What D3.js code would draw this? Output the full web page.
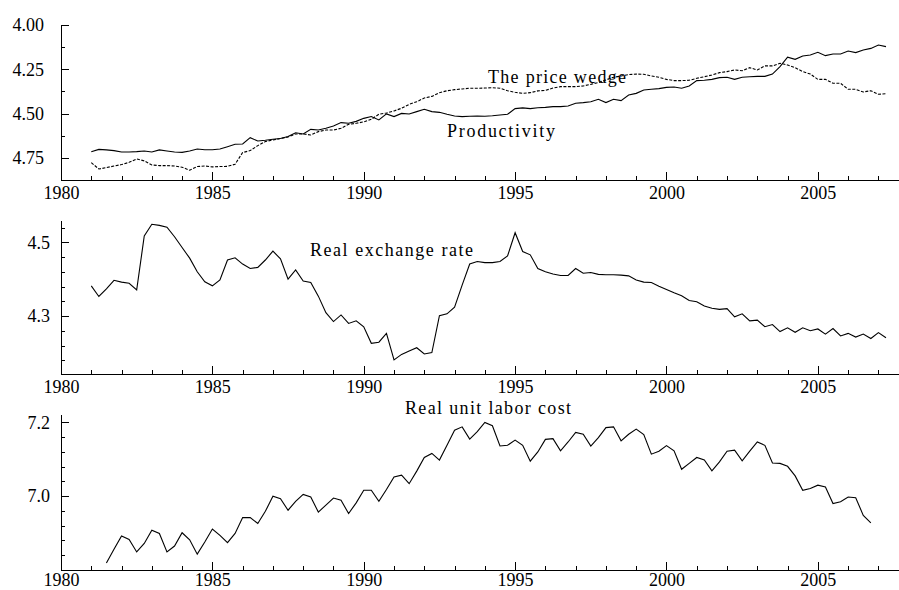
<!DOCTYPE html>
<html><head><meta charset="utf-8">
<script src="https://cdn.jsdelivr.net/npm/d3@7"></script>
<style>
html,body{margin:0;padding:0;background:#fff;}
svg{display:block;font-family:"Liberation Serif","Times New Roman",serif;}
</style></head><body>
<svg id="chart" width="899" height="590"></svg>
<script>
// ---------- data (quarterly) ----------
const xMajorYears = [1980, 1985, 1990, 1995, 2000, 2005];
const xMinorYears = [1981,1982,1983,1984,1986,1987,1988,1989,1991,1992,1993,1994,1996,1997,1998,1999,2001,2002,2003,2004,2006,2007];

const productivityStart = 1981.0;
const productivity = [
  4.715,4.702,4.705,4.709, 4.717,4.717,4.715,4.711, 4.717,4.705,4.711,4.717,
  4.719,4.711,4.700,4.704, 4.704,4.700,4.687,4.673, 4.672,4.636,4.655,4.651,
  4.645,4.641,4.630,4.608, 4.615,4.589,4.593,4.583, 4.570,4.551,4.555,4.544,
  4.527,4.517,4.536,4.502, 4.517,4.499,4.502,4.489, 4.476,4.489,4.493,4.504,
  4.514,4.517,4.515,4.514, 4.515,4.512,4.508,4.504, 4.472,4.468,4.472,4.467,
  4.465,4.461,4.461,4.457, 4.442,4.438,4.433,4.419, 4.438,4.419,4.427,4.395,
  4.386,4.367,4.363,4.359, 4.352,4.350,4.357,4.344, 4.314,4.312,4.307,4.297,
  4.295,4.307,4.295,4.292, 4.290,4.290,4.277,4.235, 4.182,4.194,4.175,4.169,
  4.154,4.173,4.164,4.164, 4.147,4.156,4.141,4.132, 4.113,4.122
];

const priceWedgeStart = 1981.0;
const priceWedge = [
  4.777,4.813,4.805,4.796, 4.788,4.775,4.756,4.767, 4.790,4.794,4.794,4.796,
  4.803,4.820,4.799,4.796, 4.801,4.799,4.798,4.786, 4.720,4.709,4.681,4.658,
  4.649,4.641,4.632,4.615, 4.615,4.621,4.602,4.593, 4.593,4.583,4.561,4.555,
  4.547,4.532,4.504,4.497, 4.485,4.470,4.448,4.433, 4.412,4.403,4.382,4.371,
  4.365,4.361,4.357,4.357, 4.356,4.354,4.357,4.371, 4.380,4.386,4.382,4.372,
  4.369,4.356,4.348,4.348, 4.348,4.344,4.335,4.325, 4.310,4.295,4.288,4.280,
  4.277,4.278,4.288,4.295, 4.307,4.314,4.314,4.312, 4.301,4.292,4.282,4.269,
  4.263,4.254,4.258,4.241, 4.254,4.231,4.231,4.216, 4.226,4.241,4.263,4.277,
  4.307,4.307,4.329,4.329, 4.363,4.363,4.378,4.371, 4.391,4.388
];

const realExchangeRateStart = 1981.0;
const realExchangeRate = [
  4.382,4.353,4.374,4.397, 4.392,4.389,4.371,4.517, 4.549,4.546,4.541,4.515,
  4.486,4.457,4.420,4.393, 4.382,4.398,4.452,4.458, 4.441,4.429,4.432,4.452,
  4.476,4.455,4.400,4.425, 4.395,4.391,4.354,4.309, 4.285,4.303,4.280,4.287,
  4.271,4.226,4.229,4.253, 4.181,4.196,4.205,4.214, 4.197,4.201,4.301,4.306,
  4.324,4.384,4.441,4.448, 4.445,4.445,4.448,4.463, 4.526,4.475,4.466,4.429,
  4.420,4.414,4.410,4.410, 4.429,4.416,4.418,4.413, 4.412,4.412,4.411,4.409,
  4.398,4.392,4.391,4.381, 4.372,4.363,4.355,4.342, 4.339,4.327,4.321,4.318,
  4.320,4.298,4.306,4.287, 4.289,4.271,4.277,4.258, 4.268,4.256,4.268,4.260,
  4.265,4.251,4.266,4.246, 4.253,4.243,4.251,4.239, 4.255,4.241
];

const realUnitLaborCostStart = 1981.5;
const realUnitLaborCost = [
  6.819,6.856, 6.892,6.883,6.849,6.872, 6.908,6.899,6.849,6.865,
  6.901,6.882,6.843,6.876, 6.911,6.894,6.874,6.899, 6.942,6.942,6.926,6.959,
  7.000,6.993,6.962,6.986, 7.005,6.998,6.957,6.976, 6.995,6.989,6.953,6.982,
  7.016,7.016,6.986,7.018, 7.052,7.057,7.034,7.068, 7.105,7.116,7.098,7.138,
  7.179,7.188,7.155,7.175, 7.200,7.191,7.136,7.138, 7.152,7.138,7.095,7.120,
  7.154,7.156,7.123,7.147, 7.173,7.168,7.136,7.159, 7.186,7.188,7.150,7.168,
  7.182,7.167,7.114,7.122, 7.137,7.123,7.073,7.089, 7.105,7.098,7.069,7.093,
  7.122,7.125,7.096,7.122, 7.147,7.138,7.090,7.089, 7.081,7.055,7.016,7.021,
  7.030,7.025,6.980,6.985, 6.998,6.996,6.948,6.928
];

const panel1Major = [4.00, 4.25, 4.50, 4.75];
const panel1Minor = [4.125, 4.375, 4.625];
const panel2Major = [4.3, 4.5];
const panel2Minor = [4.18, 4.22, 4.26, 4.34, 4.38, 4.42, 4.46, 4.54];
const panel3Major = [7.0, 7.2];
const panel3Minor = [6.84, 6.88, 6.92, 6.96, 7.04, 7.08, 7.12, 7.16];

// ---------- drawing ----------
const svg = d3.select("#chart");
const X0 = 61, X1 = 899;
const x = d3.scaleLinear().domain([1980, 2007.68]).range([X0, X1]);

function toPoints(start, arr) { return arr.map((v, i) => ({t: start + i / 4, v})); }

function styleAxis(g, fs) {
  g.attr("font-family", '"Liberation Serif","Times New Roman",serif')
   .attr("font-size", fs);
  g.selectAll("path,line").attr("stroke", "#000").attr("stroke-width", 1).attr("shape-rendering", "crispEdges");
  g.selectAll("text").attr("fill", "#000");
}

function panel(cfg) {
  const y = d3.scaleLinear().domain(cfg.domain).range([cfg.bottom, cfg.top]);
  // x axis
  const gx = svg.append("g").attr("transform", `translate(0,${cfg.bottom})`);
  gx.call(d3.axisBottom(x).tickValues(xMajorYears).tickFormat(d3.format("d"))
      .tickSize(-8).tickSizeOuter(0).tickPadding(cfg.xpad));
  styleAxis(gx, 18);
  gx.selectAll(".tick text").attr("dy", "0.71em");
  const gxm = svg.append("g").attr("transform", `translate(0,${cfg.bottom})`);
  gxm.call(d3.axisBottom(x).tickValues(xMinorYears).tickFormat("").tickSize(-4).tickSizeOuter(0));
  styleAxis(gxm, 18);
  // y axis
  const gy = svg.append("g").attr("transform", `translate(${X0},0)`);
  gy.call(d3.axisLeft(y).tickValues(cfg.major).tickFormat(cfg.fmt)
      .tickSize(-8).tickSizeOuter(0).tickPadding(cfg.pad));
  styleAxis(gy, 18);
  const gym = svg.append("g").attr("transform", `translate(${X0},0)`);
  gym.call(d3.axisLeft(y).tickValues(cfg.minor).tickFormat("").tickSize(-4).tickSizeOuter(0));
  styleAxis(gym, 18);
  // series
  cfg.series.forEach(s => {
    svg.append("path")
      .datum(toPoints(s.start, s.values))
      .attr("fill", "none")
      .attr("stroke", "#000")
      .attr("stroke-width", 1.1)
      .attr("stroke-dasharray", s.dash || null)
      .attr("d", d3.line().x(d => x(d.t)).y(d => y(d.v)));
  });
  cfg.labels.forEach(l => {
    svg.append("text").attr("x", l.x).attr("y", l.y)
      .attr("font-size", 18).attr("fill", "#000")
      .attr("textLength", l.w).attr("lengthAdjust", "spacing")
      .text(l.text);
  });
}

panel({
  domain: [4.875, 4.0], bottom: 180, top: 25, xpad: 6,
  major: panel1Major, minor: panel1Minor, fmt: d3.format(".2f"), pad: 17,
  series: [
    {start: productivityStart, values: productivity},
    {start: priceWedgeStart, values: priceWedge, dash: "3,1.5"}
  ],
  labels: [
    {text: "The price wedge", x: 488, y: 83, w: 138},
    {text: "Productivity", x: 447, y: 137, w: 108}
  ]
});

panel({
  domain: [4.142, 4.5605], bottom: 374.3, top: 220, xpad: 6,
  major: panel2Major, minor: panel2Minor, fmt: d3.format(".1f"), pad: 11,
  series: [{start: realExchangeRateStart, values: realExchangeRate}],
  labels: [{text: "Real exchange rate", x: 310, y: 256, w: 163}]
});

panel({
  domain: [6.8, 7.222], bottom: 570, top: 414.3, xpad: 3,
  major: panel3Major, minor: panel3Minor, fmt: d3.format(".1f"), pad: 11,
  series: [{start: realUnitLaborCostStart, values: realUnitLaborCost}],
  labels: [{text: "Real unit labor cost", x: 405, y: 414, w: 166}]
});
</script>
</body></html>
